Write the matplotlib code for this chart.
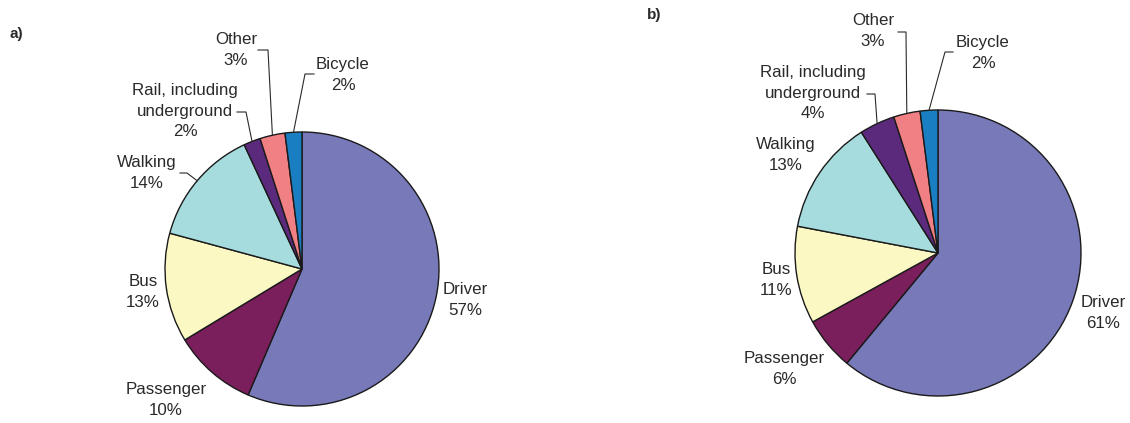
import numpy as np
import matplotlib
matplotlib.use("Agg")
import matplotlib.pyplot as plt

plt.rcParams['font.family'] = ['Liberation Sans', 'DejaVu Sans']

modes = ['Driver', 'Passenger', 'Bus', 'Walking',
         'Rail, including\nunderground', 'Other', 'Bicycle']
share_a = [57, 10, 13, 14, 2, 3, 2]
share_b = [61, 6, 11, 13, 4, 3, 2]
colors = ['#7879b9', '#7b1e5c', '#fbf8c4', '#a6dcdd', '#5b2a7d', '#f08083', '#1a7fc2']

H = 423
TXT = '#2a2a2a'

# layout in pixel coords (x, y from top): pie centre / radius, label centres, leader elbows
layout_a = dict(
    center=(302, 269), radius=137, tag=(16, 34), tag_text='a)',
    labels=[(465, 300), (166, 400), (143, 292), (147, 173), (185, 111), (236, 50), (343, 75)],
    leaders={3: [(180, 173), (187, 173)], 4: [(237, 112), (246, 112)],
             5: [(258, 50), (268, 50)], 6: [(314, 74), (305, 74)]},
)
layout_b = dict(
    center=(938, 253), radius=143, tag=(654, 15), tag_text='b)',
    labels=[(1103, 313), (784, 369), (776, 280), (786, 155), (813, 93), (873, 31), (983, 53)],
    leaders={4: [(867, 94), (875, 94)], 5: [(898, 32), (906, 32)],
             6: [(953, 52), (945, 52)]},
)

fig = plt.figure(figsize=(11.3, 4.23), dpi=100)
ax = fig.add_axes([0, 0, 1, 1])


def draw(values, lay):
    cx, cy = lay['center']
    r = lay['radius']
    wedges, _ = ax.pie(values, colors=colors, startangle=90, counterclock=False,
                       center=(cx, H - cy), radius=r,
                       wedgeprops=dict(edgecolor='#1a1a1a', linewidth=1.0))
    for i, (name, v) in enumerate(zip(modes, values)):
        lx, ly = lay['labels'][i]
        ax.text(lx, H - ly, '%s\n%d%%' % (name, v), ha='center', va='center',
                multialignment='center', fontsize=12.2, color=TXT, linespacing=1.45)
        if i in lay['leaders']:
            w = wedges[i]
            mid = np.deg2rad((w.theta1 + w.theta2) / 2)
            ex = cx + r * np.cos(mid)
            ey = (H - cy) + r * np.sin(mid)
            pts = lay['leaders'][i]
            xs = [p[0] for p in pts] + [ex]
            ys = [H - p[1] for p in pts] + [ey]
            ax.plot(xs, ys, color='#2a2a2a', linewidth=0.8)
    tx, ty = lay['tag']
    ax.text(tx, H - ty, lay['tag_text'], ha='center', va='center',
            fontsize=11, fontweight='bold', color=TXT)


draw(share_a, layout_a)
draw(share_b, layout_b)

ax.set_xlim(0, 1130)
ax.set_ylim(0, H)
ax.set_aspect('auto')
ax.axis('off')

fig.savefig('out.png', dpi=100, facecolor='white')
